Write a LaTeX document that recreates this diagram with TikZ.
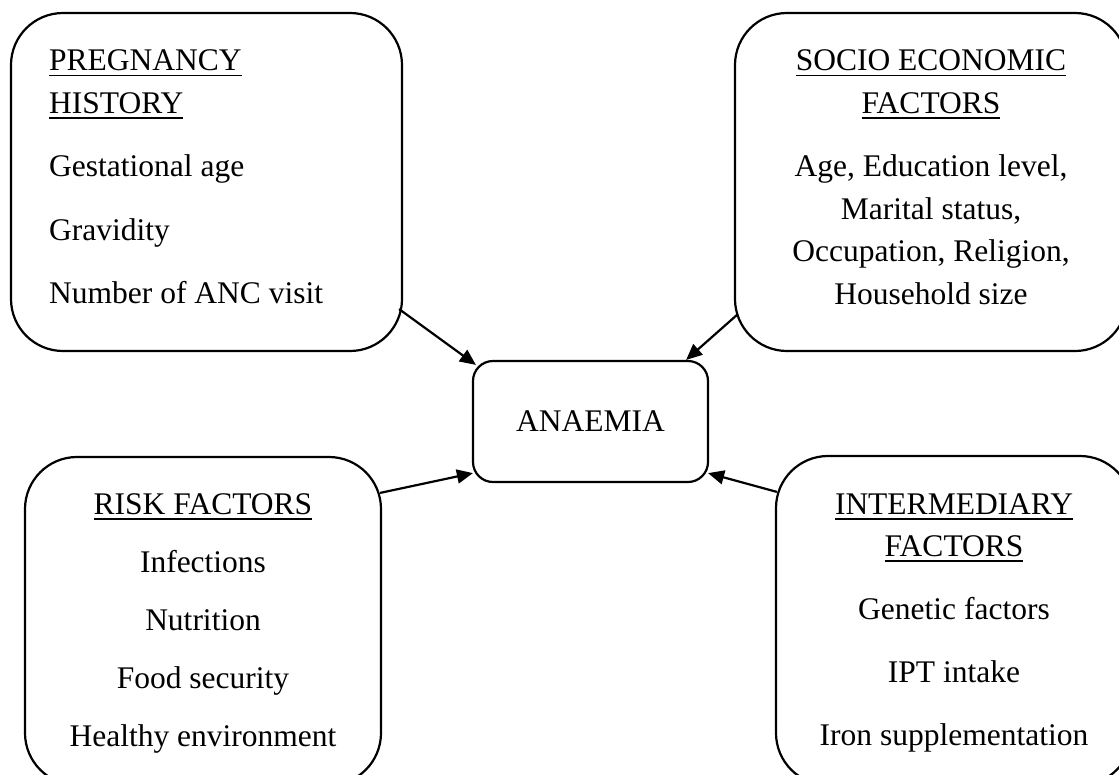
\documentclass[tikz,border=0pt]{standalone}
\usepackage{fontspec}
\setmainfont{Liberation Serif}
\usetikzlibrary{arrows.meta, positioning}

\newcommand{\titleul}[1]{\setbox0\hbox{#1}\rlap{\rule[-5.5pt]{\wd0}{1.8pt}}\box0}

\tikzset{
  factor/.style={draw, line width=2.2pt, rounded corners=52pt, inner sep=0pt},
  outcome/.style={draw, line width=2.2pt, rounded corners=20pt, inner sep=0pt, minimum width=235pt, minimum height=121pt, font=\fontsize{31.5}{42.5}\selectfont},
  factortext/.style={inner sep=0pt, font=\fontsize{31.5}{42.5}\selectfont},
  leadsto/.style={-{Triangle[length=16pt,width=14pt]}, line width=2.2pt}
}

\begin{document}
\begin{tikzpicture}[x=1pt, y=-1pt]
    \useasboundingbox (0,0) rectangle (1119,774);
    \clip (0,0) rectangle (1119,774);
    %the four factor boxes and the outcome
    \node (preg) [factor, minimum width=391pt, minimum height=338pt] at (206.5,182) {};
    \node (socio) [factor, minimum width=392pt, minimum height=338pt] at (931,182) {};
    \node (risk) [factor, minimum width=356pt, minimum height=328pt] at (203,621) {};
    \node (inter) [factor, minimum width=356pt, minimum height=329pt] at (954,620.5) {};
    \node (anaemia) [outcome] at (590.5,421.5) {ANAEMIA};
    %texts inside the boxes
    \node (pregtext) [factortext, anchor=north west, align=left] at (49,49.8) {\titleul{PREGNANCY}\\ \titleul{HISTORY}\\[21pt] Gestational age\\[21pt] Gravidity\\[21pt] Number of ANC visit};
    \node (sociotext) [factortext, anchor=north, align=center] at (931,49.8) {\titleul{SOCIO ECONOMIC}\\ \titleul{FACTORS}\\[21pt] Age, Education level,\\ Marital status,\\ Occupation, Religion,\\ Household size};
    \node (risktext) [factortext, anchor=north, align=center] at (203,493) {\titleul{RISK FACTORS}\\[15.5pt] Infections\\[15.5pt] Nutrition\\[15.5pt] Food security\\[15.5pt] Healthy environment};
    \node (intertext) [factortext, anchor=north, align=center] at (954,493) {\titleul{INTERMEDIARY}\\ \titleul{FACTORS}\\[20.5pt] Genetic factors\\[20.5pt] IPT intake\\[20.5pt] Iron supplementation};
    %arrows into anaemia
    \draw [leadsto] ([shift={(-4,-43)}]preg.south east) -- ([shift={(4,5)}]anaemia.north west);
    \draw [leadsto] ([shift={(4,-38)}]socio.south west) -- ([shift={(-23,0)}]anaemia.north east);
    \draw [leadsto] ([shift={(-2,37)}]risk.north east) -- ([shift={(1,-10)}]anaemia.south west);
    \draw [leadsto] ([shift={(2,37)}]inter.north west) -- ([shift={(-1,-10)}]anaemia.south east);
\end{tikzpicture}
\end{document}
